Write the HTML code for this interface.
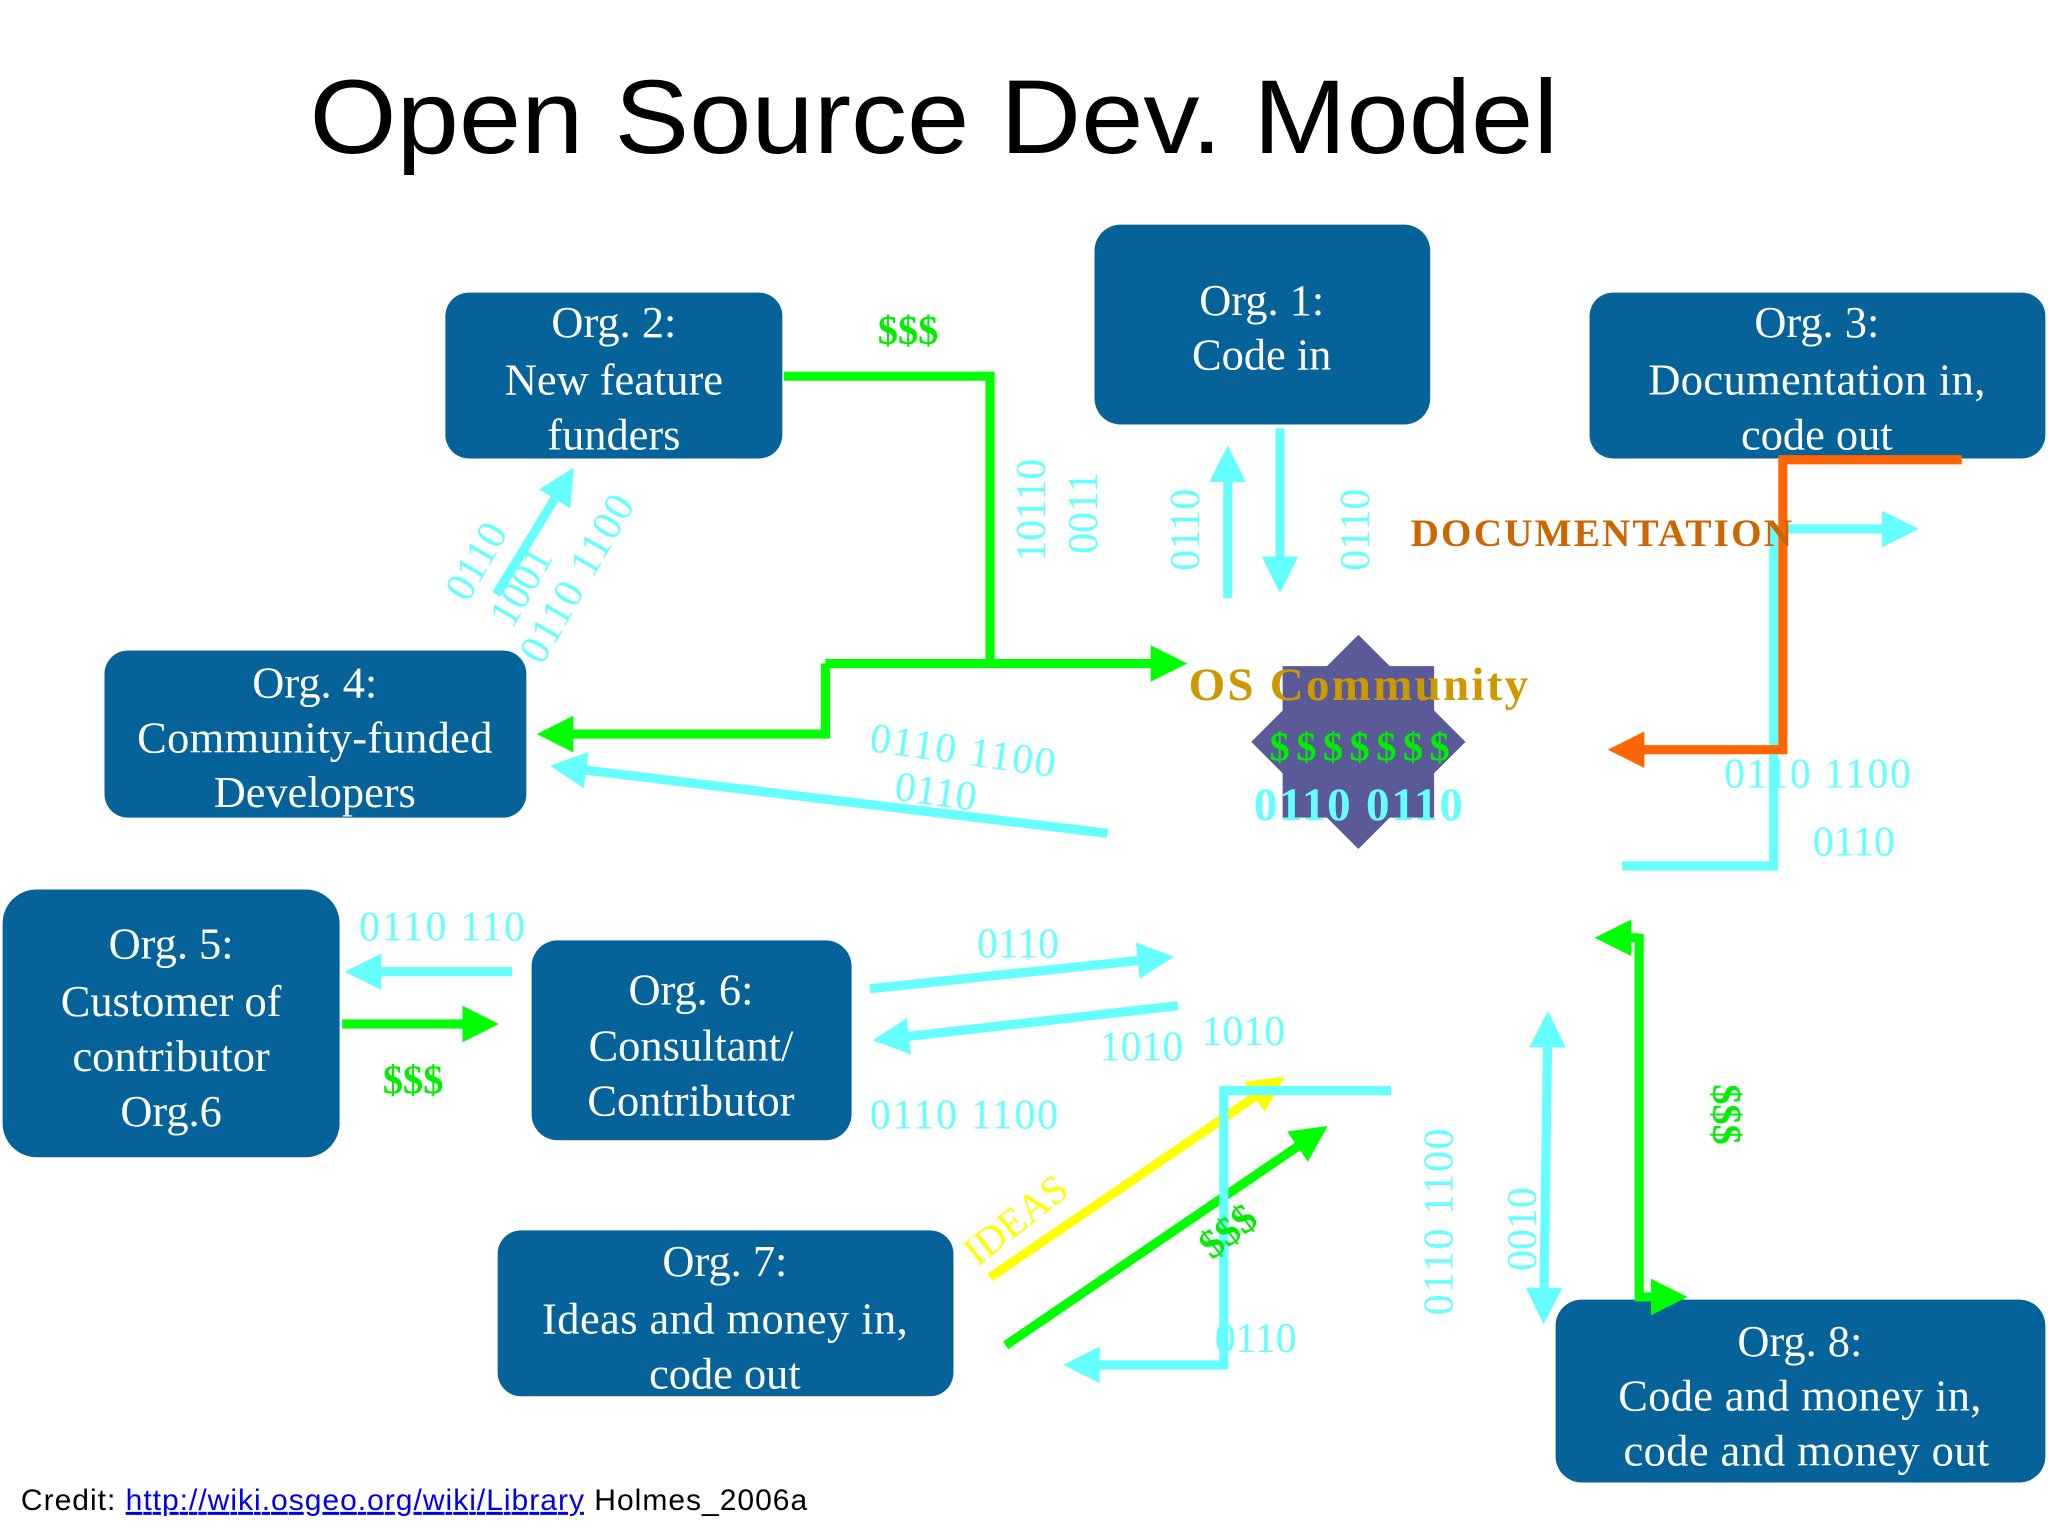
<!DOCTYPE html>
<html><head><meta charset="utf-8"><style>
html,body{margin:0;padding:0;background:#fff;}
svg{display:block;}
.b{fill:#05639a;}
.t{font-family:"Liberation Serif",serif;fill:#fff;font-size:34px;text-anchor:middle;}
.c{font-family:"Liberation Serif",serif;fill:#66ffff;font-size:32px;}
.g{font-family:"Liberation Serif",serif;fill:#00ee00;font-size:31px;font-weight:bold;}
</style></head><body>
<svg width="2048" height="1536" viewBox="0 0 1568 1176" xmlns="http://www.w3.org/2000/svg">
<defs>
<marker id="ac" markerWidth="4" markerHeight="4" refX="2" refY="2" orient="auto" markerUnits="strokeWidth"><path d="M0,0L4,2L0,4z" fill="#66ffff"/></marker>
<marker id="acs" markerWidth="4" markerHeight="4" refX="2" refY="2" orient="auto-start-reverse" markerUnits="strokeWidth"><path d="M0,0L4,2L0,4z" fill="#66ffff"/></marker>
<marker id="ag" markerWidth="4" markerHeight="4" refX="2" refY="2" orient="auto" markerUnits="strokeWidth"><path d="M0,0L4,2L0,4z" fill="#00ff00"/></marker>
<marker id="ay" markerWidth="4" markerHeight="4" refX="2" refY="2" orient="auto" markerUnits="strokeWidth"><path d="M0,0L4,2L0,4z" fill="#ffff00"/></marker>
<marker id="ao" markerWidth="4" markerHeight="4" refX="2" refY="2" orient="auto" markerUnits="strokeWidth"><path d="M0,0L4,2L0,4z" fill="#ff6600"/></marker>
</defs>
<text x="237" y="117" font-family="Liberation Sans,sans-serif" font-size="80" textLength="956" lengthAdjust="spacingAndGlyphs">Open Source Dev. Model</text>

<g transform="translate(1040,568)" fill="#5a5a98">
<rect x="-58" y="-58" width="116" height="116"/>
<rect x="-58" y="-58" width="116" height="116" transform="rotate(45)"/>
</g>

<rect class="b" x="341" y="224" width="258" height="127" rx="18"/>
<rect class="b" x="838" y="172" width="257" height="153" rx="20"/>
<rect class="b" x="1217" y="224" width="349" height="127" rx="18"/>
<rect class="b" x="80" y="498" width="323" height="128" rx="18"/>
<rect class="b" x="2" y="681" width="258" height="205" rx="26"/>
<rect class="b" x="407" y="720" width="245" height="153" rx="20"/>
<rect class="b" x="381" y="942" width="349" height="127" rx="18"/>
<rect class="b" x="1191" y="995" width="375" height="140" rx="20"/>

<text class="t" x="470" y="258">Org. 2:</text><text class="t" x="470" y="302">New feature</text><text class="t" x="470" y="344">funders</text>
<text class="t" x="966" y="241" font-size="37">Org. 1:</text><text class="t" x="966" y="283">Code in</text>
<text class="t" x="1391" y="258">Org. 3:</text><text class="t" x="1391" y="302" textLength="258">Documentation in,</text><text class="t" x="1391" y="344">code out</text>
<text class="t" x="241" y="534">Org. 4:</text><text class="t" x="241" y="576" textLength="272">Community-funded</text><text class="t" x="241" y="618">Developers</text>
<text class="t" x="131" y="734">Org. 5:</text><text class="t" x="131" y="778">Customer of</text><text class="t" x="131" y="820">contributor</text><text class="t" x="131" y="862">Org.6</text>
<text class="t" x="529" y="769">Org. 6:</text><text class="t" x="529" y="812">Consultant/</text><text class="t" x="529" y="854">Contributor</text>
<text class="t" x="555" y="977">Org. 7:</text><text class="t" x="555" y="1021" textLength="280">Ideas and money in,</text><text class="t" x="555" y="1063">code out</text>
<text class="t" x="1378" y="1038">Org. 8:</text><text class="t" x="1378" y="1080" textLength="278">Code and money in,</text><text class="t" x="1383" y="1122" textLength="280">code and money out</text>

<g fill="none" stroke="#00ff00" stroke-width="7">
<polyline points="600,288 758,288 758,508"/>
<polyline points="632,508 895,508" marker-end="url(#ag)"/>
<polyline points="632,508 632,562 425,562" marker-end="url(#ag)"/>
<polyline points="262,784 368,784" marker-end="url(#ag)"/>
<polyline points="770,1030 1005,870" marker-end="url(#ag)"/>
<polyline points="1255,715 1255,993 1278,993" marker-end="url(#ag)"/>
<polyline points="1255,718 1235,718" marker-end="url(#ag)"/>
</g>
<line x1="758" y1="978" x2="972" y2="832" stroke="#ffff00" stroke-width="7" marker-end="url(#ay)"/>

<g fill="none" stroke="#66ffff" stroke-width="7">
<polyline points="380,455 432,370" marker-end="url(#ac)"/>
<polyline points="940,458 940,355" marker-end="url(#ac)"/>
<polyline points="980,328 980,440" marker-end="url(#ac)"/>
<polyline points="848,638 435,588" marker-end="url(#ac)"/>
<polyline points="1242,663 1358,663 1358,405 1455,405" marker-end="url(#ac)"/>
<polyline points="392,744 278,744" marker-end="url(#ac)"/>
<polyline points="666,757 885,734" marker-end="url(#ac)"/>
<polyline points="902,770 682,795" marker-end="url(#ac)"/>
<polyline points="1065,835 937,835 937,1045 828,1045" marker-end="url(#ac)"/>
<polyline points="1182,1000 1185,788" marker-start="url(#acs)" marker-end="url(#ac)"/>
</g>
<polyline points="1502,352 1365,352 1365,574 1245,574" fill="none" stroke="#ff6600" stroke-width="7" marker-end="url(#ao)"/>

<text class="g" x="672" y="263" font-size="32">$$$</text>
<text class="g" x="293" y="837" font-size="32">$$$</text>
<text class="g" x="972" y="582" font-size="38" textLength="138">$$$$$$$</text>
<text x="910" y="536" font-family="Liberation Serif,serif" font-weight="bold" font-size="36" fill="#cc9900" textLength="260">OS Community</text>
<text x="960" y="628" font-family="Liberation Serif,serif" font-weight="bold" font-size="36" fill="#66ffff" textLength="160">0110 0110</text>
<text x="1080" y="418" font-family="Liberation Serif,serif" font-weight="bold" font-size="30" fill="#cc6600" textLength="292">DOCUMENTATION</text>
<text class="c" x="1320" y="603" textLength="143">0110 1100</text>
<text class="c" x="1388" y="655">0110</text>
<text class="c" x="275" y="720" textLength="127">0110 110</text>
<text class="c" x="748" y="733">0110</text>
<text class="c" x="842" y="812">1010</text>
<text class="c" x="920" y="800">1010</text>
<text class="c" x="666" y="864" textLength="144">0110 1100</text>
<text class="c" x="930" y="1035">0110</text>
<text class="c" x="665" y="575" transform="rotate(8 665 575)" textLength="143">0110 1100</text>
<text class="c" x="684" y="612" transform="rotate(8 684 612)">0110</text>
<text class="c" x="800" y="430" transform="rotate(-90 800 430)">10110</text>
<text class="c" x="840" y="424" transform="rotate(-90 840 424)">0011</text>
<text class="c" x="918" y="437" transform="rotate(-90 918 437)">0110</text>
<text class="c" x="1048" y="437" transform="rotate(-90 1048 437)">0110</text>
<text class="c" x="1112" y="1007" transform="rotate(-90 1112 1007)" textLength="143">0110 1100</text>
<text class="c" x="1176" y="973" transform="rotate(-90 1176 973)">0010</text>
<text class="c" x="358" y="462" transform="rotate(-60 358 462)">0110</text>
<text class="c" x="392" y="482" transform="rotate(-60 392 482)">1001</text>
<text class="c" x="415" y="510" transform="rotate(-60 415 510)" textLength="143">0110 1100</text>
<text x="748" y="970" font-family="Liberation Serif,serif" font-size="31" fill="#ffff00" transform="rotate(-38 748 970)">IDEAS</text>
<text class="g" x="928" y="965" font-size="30" transform="rotate(-38 928 965)">$$$</text>
<text class="g" x="1312" y="830" font-size="30" transform="rotate(90 1312 830)">$$$</text>

<text x="16" y="1156" font-family="Liberation Sans,sans-serif" font-size="23" fill="#000" textLength="602">Credit: <tspan fill="#0000ee" text-decoration="underline">http://wiki.osgeo.org/wiki/Library</tspan> Holmes_2006a</text>
</svg>
</body></html>
